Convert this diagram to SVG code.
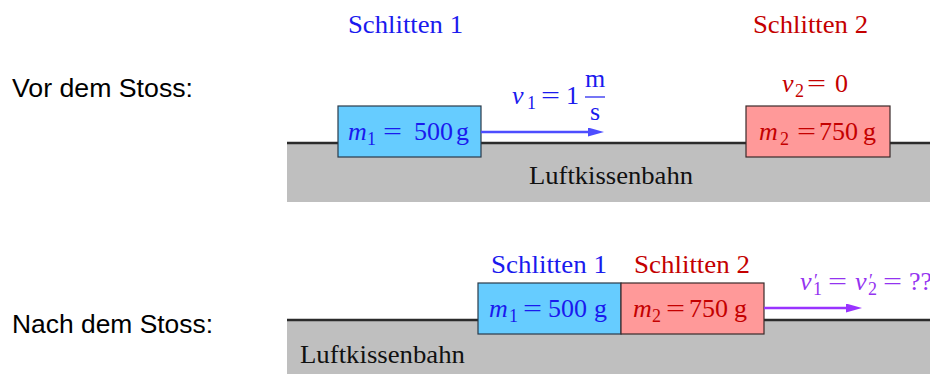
<svg xmlns="http://www.w3.org/2000/svg" width="930" height="374" viewBox="0 0 930 374">
<style>
.sans{font-family:"Liberation Sans","DejaVu Sans",sans-serif;font-size:25px;fill:#000}
.ser{font-family:"Liberation Serif","DejaVu Serif",serif;font-size:26px}
.it{font-style:italic}
.sub{font-size:18px}
.blue{fill:#1a1aee}
.red{fill:#c40000}
.purple{fill:#9433f0}
.track{fill:#bfbfbf}
.rail{stroke:#2b2b2b;stroke-width:2.4}
.b1{fill:#66ccff;stroke:#2a3a4a;stroke-width:1.2}
.b2{fill:#ff9999;stroke:#3a2a2a;stroke-width:1.2}
</style>
<defs>
<marker id="ab" markerUnits="userSpaceOnUse" markerWidth="18" markerHeight="10" refX="4" refY="4.5" orient="auto"><path d="M0,0 L16,4.5 L0,9 z" fill="#4d4dff"/></marker>
<marker id="ap" markerUnits="userSpaceOnUse" markerWidth="18" markerHeight="10" refX="4" refY="4.5" orient="auto"><path d="M0,0 L16,4.5 L0,9 z" fill="#9933ff"/></marker>
</defs>

<g id="labels">
<text class="sans" x="12" y="97" textLength="181" lengthAdjust="spacingAndGlyphs">Vor dem Stoss:</text>
<text class="sans" x="12" y="333" textLength="201" lengthAdjust="spacingAndGlyphs">Nach dem Stoss:</text>
</g>

<g id="track-top">
<rect class="track" x="287" y="143" width="643" height="59"/>
<line class="rail" x1="287" y1="143" x2="930" y2="143"/>
<text class="ser" x="529" y="184" textLength="164" lengthAdjust="spacingAndGlyphs" fill="#111">Luftkissenbahn</text>
</g>

<g id="track-bottom">
<rect class="track" x="287" y="320" width="643" height="54"/>
<line class="rail" x1="287" y1="320" x2="930" y2="320"/>
<text class="ser" x="300" y="363" textLength="165" lengthAdjust="spacingAndGlyphs" fill="#111">Luftkissenbahn</text>
</g>

<g id="sled1-before">
<text class="ser blue" x="348" y="33" textLength="115" lengthAdjust="spacingAndGlyphs">Schlitten 1</text>
<rect class="b1" x="338" y="106" width="143" height="51"/>
<text class="ser blue" y="140"><tspan class="it" x="348">m</tspan><tspan class="sub" x="367" dy="5">1</tspan><tspan x="383" dy="-5" textLength="19" lengthAdjust="spacingAndGlyphs">=</tspan><tspan x="414">500</tspan><tspan x="456">g</tspan></text>
</g>

<g id="sled2-before">
<text class="ser red" x="753" y="33" textLength="115" lengthAdjust="spacingAndGlyphs">Schlitten 2</text>
<text class="ser red" y="92"><tspan class="it" x="782">v</tspan><tspan class="sub" x="795" dy="5">2</tspan><tspan x="807" dy="-5" textLength="19" lengthAdjust="spacingAndGlyphs">=</tspan><tspan x="835">0</tspan></text>
<rect class="b2" x="746" y="106" width="144" height="51"/>
<text class="ser red" y="140"><tspan class="it" x="759">m</tspan><tspan class="sub" x="780" dy="5">2</tspan><tspan x="797" dy="-5" textLength="19" lengthAdjust="spacingAndGlyphs">=</tspan><tspan x="819">750</tspan><tspan x="863">g</tspan></text>
</g>

<g id="v1-label">
<text class="ser blue" y="104"><tspan class="it" x="512">v</tspan><tspan class="sub" x="527" dy="5">1</tspan><tspan x="541" dy="-5" textLength="19" lengthAdjust="spacingAndGlyphs">=</tspan><tspan x="566">1</tspan></text>
<text class="ser blue" x="595" y="87" text-anchor="middle" font-size="22">m</text>
<line x1="585" y1="97" x2="605" y2="97" stroke="#1a1aee" stroke-width="1.2"/>
<text class="ser blue" x="595" y="120" text-anchor="middle" font-size="22">s</text>
</g>

<g id="sled1-after">
<text class="ser blue" x="491" y="273" textLength="116" lengthAdjust="spacingAndGlyphs">Schlitten 1</text>
<rect class="b1" x="478" y="283" width="143" height="51"/>
<text class="ser blue" y="317"><tspan class="it" x="489">m</tspan><tspan class="sub" x="509" dy="5">1</tspan><tspan x="523" dy="-5" textLength="19" lengthAdjust="spacingAndGlyphs">=</tspan><tspan x="548">500</tspan><tspan x="594">g</tspan></text>
</g>

<g id="sled2-after">
<text class="ser red" x="634" y="273" textLength="116" lengthAdjust="spacingAndGlyphs">Schlitten 2</text>
<rect class="b2" x="621" y="283" width="143" height="51"/>
<text class="ser red" y="317"><tspan class="it" x="633">m</tspan><tspan class="sub" x="652" dy="5">2</tspan><tspan x="666" dy="-5" textLength="19" lengthAdjust="spacingAndGlyphs">=</tspan><tspan x="689">750</tspan><tspan x="734">g</tspan></text>
</g>

<g id="v-after-label">
<text class="ser purple" y="290"><tspan class="it" x="800">v</tspan><tspan x="814" dy="-3" font-size="18">′</tspan><tspan class="sub" x="813" dy="8">1</tspan><tspan x="828" dy="-5" textLength="19" lengthAdjust="spacingAndGlyphs">=</tspan><tspan class="it" x="855">v</tspan><tspan x="869" dy="-3" font-size="18">′</tspan><tspan class="sub" x="868" dy="8">2</tspan><tspan x="883" dy="-5" textLength="19" lengthAdjust="spacingAndGlyphs">=</tspan><tspan x="909">??</tspan></text>
</g>

<g id="connectors">
<line x1="481" y1="132" x2="592" y2="132" stroke="#4d4dff" stroke-width="2.6" marker-end="url(#ab)"/>
<line x1="764" y1="308" x2="850" y2="308" stroke="#9933ff" stroke-width="2.6" marker-end="url(#ap)"/>
</g>
</svg>
